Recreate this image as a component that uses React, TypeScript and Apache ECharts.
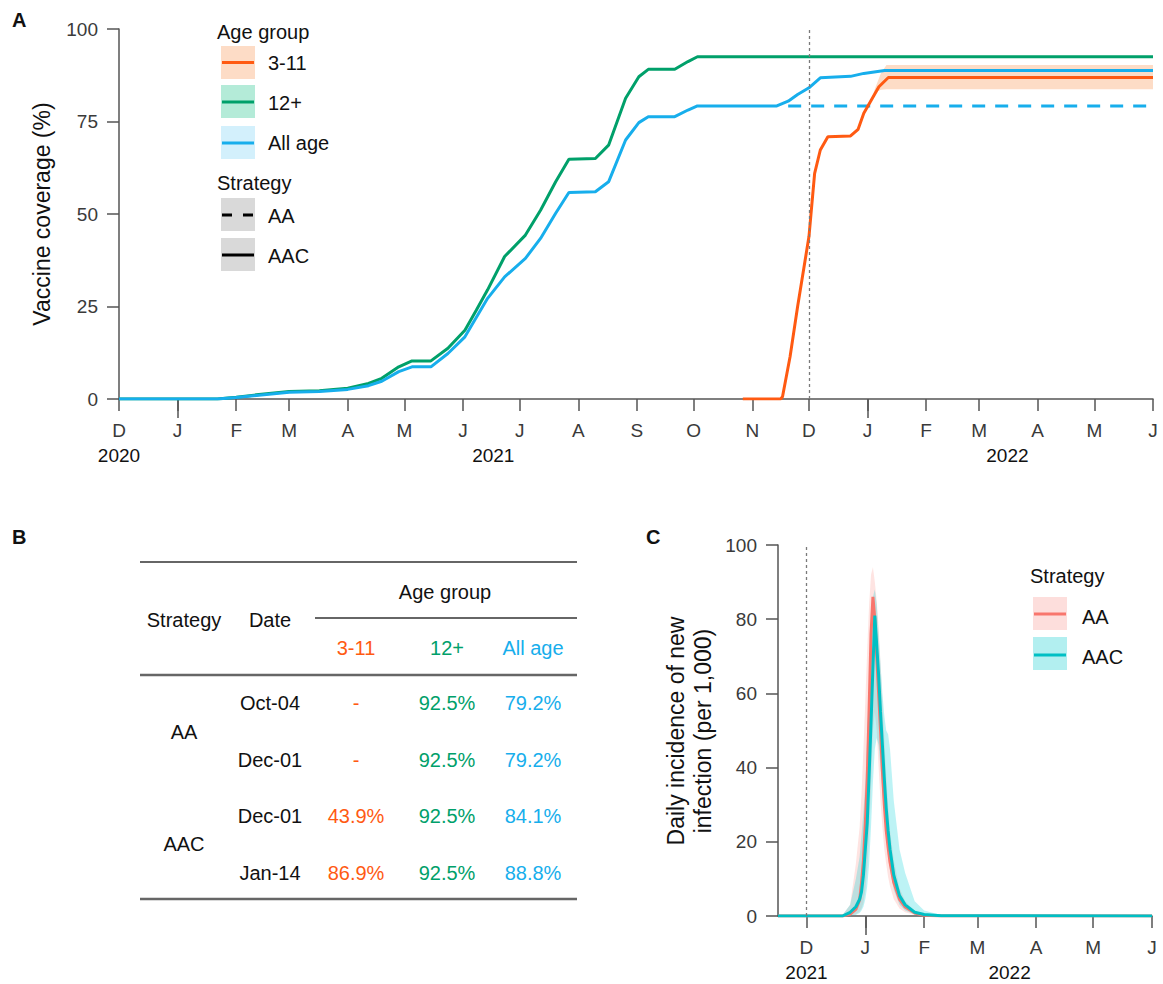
import React, { useEffect, useRef } from 'react';
import * as echarts from 'echarts';

const FONT = '"Liberation Sans", Arial, Helvetica, sans-serif';
const ORANGE = '#FF5A12';
const GREEN = '#00A06A';
const BLUE = '#17AEEC';
const RED = '#F8766D';
const TEAL = '#00BFC4';
const AXIS = '#555555';
const TICKTXT = '#3a3a3a';

// ---------- Panel A data ----------
const monthTicksA = ['2020-12-01','2021-01-01','2021-02-01','2021-03-01','2021-04-01','2021-05-01','2021-06-01','2021-07-01','2021-08-01','2021-09-01','2021-10-01','2021-11-01','2021-12-01','2022-01-01','2022-02-01','2022-03-01','2022-04-01','2022-05-01','2022-06-01'];
const januaryTicksA = ['2021-01-01','2022-01-01'];
const yearLabelPosA = ['2020-12-01','2021-06-17','2022-03-16'];
const yTicksA = [0, 25, 50, 75, 100];

const cov12Plus: [string, number][] = [
  ['2020-12-01',0],['2021-01-22',0],['2021-02-01',0.5],['2021-02-13',1.2],['2021-03-01',2.0],['2021-03-17',2.2],['2021-04-01',2.9],['2021-04-12',4.2],['2021-04-19',5.6],['2021-04-28',8.7],['2021-05-05',10.3],['2021-05-15',10.3],['2021-05-24',13.7],['2021-06-02',18.6],['2021-06-08',24],['2021-06-14',29.5],['2021-06-23',38.5],['2021-07-04',44.3],['2021-07-12',51],['2021-07-20',58.7],['2021-07-27',64.8],['2021-08-10',65],['2021-08-17',68.6],['2021-08-26',81.3],['2021-09-02',87.1],['2021-09-07',89.1],['2021-09-21',89.1],['2021-09-28',91.2],['2021-10-03',92.5],['2022-06-01',92.5]
];
const covAllAge: [string, number][] = [
  ['2020-12-01',0],['2021-01-22',0],['2021-02-01',0.4],['2021-02-13',1.0],['2021-03-01',1.8],['2021-03-17',2.0],['2021-04-01',2.6],['2021-04-12',3.6],['2021-04-19',4.8],['2021-04-28',7.4],['2021-05-05',8.7],['2021-05-15',8.7],['2021-05-24',12.3],['2021-06-02',16.8],['2021-06-14',27.2],['2021-06-23',33],['2021-07-04',38],['2021-07-12',43.4],['2021-07-20',50.2],['2021-07-27',55.8],['2021-08-10',56],['2021-08-17',58.7],['2021-08-26',70],['2021-09-02',74.7],['2021-09-07',76.3],['2021-09-21',76.3],['2021-09-28',78.1],['2021-10-03',79.2],['2021-11-14',79.2],['2021-11-20',80.5],['2021-11-25',82.3],['2021-12-01',84.1],['2021-12-07',86.8],['2021-12-23',87.2],['2021-12-30',88.0],['2022-01-10',88.8],['2022-06-01',88.8]
];
const covAllAgeAA: [string, number][] = [['2021-11-20',79.2],['2022-06-01',79.2]];
const cov3to11: [string, number][] = [
  ['2021-10-27',0],['2021-11-16',0],['2021-11-17',0.6],['2021-11-21',11.4],['2021-11-25',25],['2021-12-01',43.9],['2021-12-04',61],['2021-12-07',67.3],['2021-12-11',70.9],['2021-12-23',71.1],['2021-12-27',72.9],['2021-12-30',77.2],['2022-01-03',80.8],['2022-01-07',84.4],['2022-01-12',86.9],['2022-06-01',86.9]
];
const band3to11Dates = ['2022-01-03','2022-01-05','2022-01-08','2022-01-11','2022-06-01'];
const band3to11Lower = [81, 82.8, 83.6, 83.7, 83.7];
const band3to11Upper = [81, 84, 88, 90.3, 90.3];

// ---------- Panel B data ----------
const tableAgeGroups = ['3-11', '12+', 'All age'];
const tableStrategies = ['AA', 'AAC'];
const tableDates = ['Oct-04', 'Dec-01', 'Dec-01', 'Jan-14'];
const table3to11 = ['-', '-', '43.9%', '86.9%'];
const table12Plus = ['92.5%', '92.5%', '92.5%', '92.5%'];
const tableAllAge = ['79.2%', '79.2%', '84.1%', '88.8%'];

// ---------- Panel C data ----------
const monthTicksC = ['2021-12-01','2022-01-01','2022-02-01','2022-03-01','2022-04-01','2022-05-01','2022-06-01'];
const januaryTicksC = ['2022-01-01'];
const yearLabelPosC = ['2021-12-01','2022-03-18'];
const yTicksC = [0, 20, 40, 60, 80, 100];
const incDates = ['2021-11-16','2021-12-20','2021-12-24','2021-12-27','2021-12-29','2021-12-30','2021-12-31','2022-01-01','2022-01-02','2022-01-03','2022-01-04','2022-01-05','2022-01-06','2022-01-07','2022-01-08','2022-01-09','2022-01-10','2022-01-11','2022-01-12','2022-01-13','2022-01-14','2022-01-16','2022-01-19','2022-01-22','2022-01-27','2022-02-01','2022-02-10','2022-06-01'];
const incAA =       [0, 0, 0.5, 1.8, 4.3, 9, 15, 25, 37, 56, 76, 86, 80, 70, 60, 50, 39, 30, 23, 18.5, 14.5, 9, 4.5, 2.4, 0.8, 0.2, 0, 0];
const incAAC =      [0, 0, 1.0, 2.5, 4.5, 6.5, 11, 18, 25, 38, 52, 67, 81, 73, 65, 55, 46, 37, 29, 23, 18, 11, 5.5, 3, 1, 0.4, 0.1, 0];
const incAALower =  [0, 0, 0, 0.5, 1.2, 2, 3.5, 7, 13, 22, 35, 50, 55, 50, 40, 31, 24, 18, 14, 10.5, 8, 4.5, 2, 1, 0.3, 0, 0, 0];
const incAAUpper =  [0, 0.3, 3, 14, 24, 33, 45, 58, 72, 84, 92, 94, 90, 85, 78, 68, 58, 48, 38, 30, 23, 15, 7.5, 4, 1.3, 0.4, 0, 0];
const incAACLower = [0, 0, 0, 0.3, 0.8, 1.5, 2.5, 4.5, 8, 14, 24, 36, 45, 48, 46, 40, 33, 27, 21, 16, 12.5, 7, 3, 1.5, 0.4, 0.1, 0, 0];
const incAACUpper = [0, 0.3, 3, 10, 16, 22, 28, 36, 48, 62, 76, 86, 88, 84, 76, 68, 60, 54, 50, 49, 45, 31, 18, 11.6, 4, 1.5, 0.3, 0];

const MONTH_LETTERS = ['J','F','M','A','M','J','J','A','S','O','N','D'];
const ts = (s: string) => { const [y, m, d] = s.split('-').map(Number); return Date.UTC(y, m - 1, d); };
const pairs = (arr: [string, number][]) => arr.map(([d, v]) => [ts(d), v]);

function buildOption() {
  const axisLine = { show: true, onZero: false, lineStyle: { color: AXIS, width: 1.5 } };
  const tickStyle = { color: AXIS, width: 1.5 };
  const monthFmt = (v: number) => MONTH_LETTERS[new Date(v).getUTCMonth()];
  const yearFmt = (v: number) => String(new Date(v).getUTCFullYear());

  const makeXAxes = (grid: number, min: string, max: string, months: string[], jans: string[], years: string[]) => [
    {
      type: 'value', gridIndex: grid, position: 'bottom', min: ts(min), max: ts(max),
      axisLine, splitLine: { show: false },
      axisTick: { show: true, length: 12, customValues: months.map(ts), lineStyle: tickStyle },
      axisLabel: { show: true, customValues: months.map(ts), formatter: monthFmt, margin: 22, fontSize: 19, color: TICKTXT, fontFamily: FONT },
    },
    {
      type: 'value', gridIndex: grid, position: 'bottom', min: ts(min), max: ts(max),
      axisLine: { show: false, onZero: false }, splitLine: { show: false },
      axisTick: { show: true, length: 19, customValues: jans.map(ts), lineStyle: tickStyle },
      axisLabel: { show: false },
    },
    {
      type: 'value', gridIndex: grid, position: 'bottom', min: ts(min), max: ts(max),
      axisLine: { show: false, onZero: false }, splitLine: { show: false },
      axisTick: { show: false },
      axisLabel: { show: true, customValues: years.map(ts), formatter: yearFmt, margin: 47, fontSize: 19, color: '#111', fontFamily: FONT },
    },
  ];

  const makeYAxis = (grid: number, ticks: number[]) => ({
    type: 'value', gridIndex: grid, min: ticks[0], max: ticks[ticks.length - 1], interval: ticks[1] - ticks[0],
    axisLine: { show: true, lineStyle: { color: AXIS, width: 1.5 } },
    axisTick: { show: true, length: 12, lineStyle: tickStyle },
    axisLabel: { fontSize: 19, color: TICKTXT, margin: 21, fontFamily: FONT },
    splitLine: { show: false },
  });

  const line = (name: string, data: any[], color: string, xi: number, yi: number, dash?: number[]) => ({
    name, type: 'line', data, xAxisIndex: xi, yAxisIndex: yi, symbol: 'none', showSymbol: false,
    lineStyle: { color, width: 3, type: dash || 'solid' }, itemStyle: { color },
  });

  // confidence band drawn as one polygon through the axes' own coordinate mapping
  const band = (name: string, dates: string[], lower: number[], upper: number[], color: string, xi: number, yi: number) => ({
    name, type: 'custom', xAxisIndex: xi, yAxisIndex: yi, silent: true,
    data: [[ts(dates[0]), lower[0]]],
    renderItem: (_params: any, api: any) => {
      const top = dates.map((d, i) => api.coord([ts(d), upper[i]]));
      const bottom = dates.map((d, i) => api.coord([ts(d), lower[i]])).reverse();
      return { type: 'polygon', shape: { points: top.concat(bottom) }, style: { fill: color } };
    },
  });

  const vline = (date: string) => ({
    silent: true, symbol: ['none', 'none'], label: { show: false },
    lineStyle: { color: '#7a7a7a', type: [3, 3], width: 1.3 },
    data: [{ xAxis: ts(date) }],
  });

  const txt = (text: string, x: number, y: number, opts: any = {}) => ({
    type: 'text', x, y, rotation: opts.rotation || 0, z: 100,
    style: {
      text, fill: opts.color || '#111', fontSize: opts.size || 20, fontFamily: FONT, fontWeight: opts.weight || 'normal',
      align: opts.align || 'left', textAlign: opts.align || 'left', verticalAlign: 'middle', textVerticalAlign: 'middle',
      lineHeight: opts.lineHeight,
    },
  });
  const rect = (x: number, y: number, w: number, h: number, fill: string) => ({ type: 'rect', z: 90, shape: { x, y, width: w, height: h }, style: { fill } });
  const seg = (x1: number, y1: number, x2: number, y2: number, stroke: string, lw: number, dash?: number[]) => ({
    type: 'line', z: 95, shape: { x1, y1, x2, y2 }, style: { stroke, lineWidth: lw, lineDash: dash || null },
  });

  // Table layout
  const colStrategy = 184, colDate = 270, col311 = 356, col12 = 447, colAll = 533;
  const rowY = [703, 760, 816, 873];
  const stratY = [732, 844];
  const tableGraphics: any[] = [
    seg(140, 562, 577, 562, '#333', 1.6),
    txt('Age group', 445, 592, { align: 'center' }),
    seg(315, 618, 577, 618, '#333', 1.6),
    txt('Strategy', colStrategy, 620, { align: 'center' }),
    txt('Date', colDate, 620, { align: 'center' }),
    txt(tableAgeGroups[0], col311, 648, { align: 'center', color: ORANGE }),
    txt(tableAgeGroups[1], col12, 648, { align: 'center', color: GREEN }),
    txt(tableAgeGroups[2], colAll, 648, { align: 'center', color: BLUE }),
    seg(140, 675, 577, 675, '#666', 2.4),
    seg(140, 899, 577, 899, '#666', 2.4),
  ];
  tableStrategies.forEach((s, i) => tableGraphics.push(txt(s, colStrategy, stratY[i], { align: 'center' })));
  tableDates.forEach((d, i) => {
    tableGraphics.push(txt(d, colDate, rowY[i], { align: 'center' }));
    tableGraphics.push(txt(table3to11[i], col311, rowY[i], { align: 'center', color: ORANGE }));
    tableGraphics.push(txt(table12Plus[i], col12, rowY[i], { align: 'center', color: GREEN }));
    tableGraphics.push(txt(tableAllAge[i], colAll, rowY[i], { align: 'center', color: BLUE }));
  });

  const legendA: any[] = [
    txt('Age group', 217, 32),
    rect(221, 46, 34, 33, '#FDDCC6'), seg(222, 62.5, 254, 62.5, ORANGE, 3), txt('3-11', 268, 63),
    rect(221, 85, 34, 33, '#B4EBD8'), seg(222, 102, 254, 102, GREEN, 3), txt('12+', 268, 103),
    rect(221, 126, 34, 33, '#D3F0FC'), seg(222, 143, 254, 143, BLUE, 3), txt('All age', 268, 143),
    txt('Strategy', 217, 183),
    rect(221, 198, 34, 33, '#D9D9D9'), seg(222, 215, 254, 215, '#000', 3, [10, 11]), txt('AA', 268, 216),
    rect(221, 238, 34, 33, '#D9D9D9'), seg(222, 255, 254, 255, '#000', 3), txt('AAC', 268, 256),
  ];
  const legendC: any[] = [
    txt('Strategy', 1030, 576),
    rect(1033, 597, 34, 33, '#FDDEDC'), seg(1034, 614, 1066, 614, RED, 3), txt('AA', 1082, 617),
    rect(1033, 637, 34, 33, '#B2EFF0'), seg(1034, 655, 1066, 655, TEAL, 3), txt('AAC', 1082, 657),
  ];

  return {
    animation: false,
    backgroundColor: '#ffffff',
    textStyle: { fontFamily: FONT },
    grid: [
      { left: 119, right: 10, top: 29, bottom: 585 },
      { left: 778, right: 11, top: 545, bottom: 68 },
    ],
    xAxis: [
      ...makeXAxes(0, '2020-12-01', '2022-06-01', monthTicksA, januaryTicksA, yearLabelPosA),
      ...makeXAxes(1, '2021-11-16', '2022-06-01', monthTicksC, januaryTicksC, yearLabelPosC),
    ],
    yAxis: [makeYAxis(0, yTicksA), makeYAxis(1, yTicksC)],
    series: [
      band('3-11 range', band3to11Dates, band3to11Lower, band3to11Upper, '#FDDCC6', 0, 0),
      { ...line('12+ AAC', pairs(cov12Plus), GREEN, 0, 0), markLine: vline('2021-12-01') },
      line('All age AAC', pairs(covAllAge), BLUE, 0, 0),
      line('All age AA', pairs(covAllAgeAA), BLUE, 0, 0, [13, 10]),
      line('3-11 AAC', pairs(cov3to11), ORANGE, 0, 0),
      band('AA range', incDates, incAALower, incAAUpper, 'rgba(248,118,109,0.2)', 3, 1),
      band('AAC range', incDates, incAACLower, incAACUpper, 'rgba(0,210,215,0.26)', 3, 1),
      { ...line('AA', incDates.map((d, i) => [ts(d), incAA[i]]), RED, 3, 1), markLine: vline('2021-12-01') },
      line('AAC', incDates.map((d, i) => [ts(d), incAAC[i]]), TEAL, 3, 1),
    ],
    graphic: [
      txt('A', 12, 20, { weight: 'bold', size: 20 }),
      txt('B', 12, 537, { weight: 'bold', size: 20 }),
      txt('C', 646, 537, { weight: 'bold', size: 20 }),
      txt('Vaccine coverage (%)', 42, 214, { align: 'center', size: 23, rotation: Math.PI / 2 }),
      txt('Daily incidence of new\ninfection (per 1,000)', 689, 731, { align: 'center', size: 23, rotation: Math.PI / 2, lineHeight: 27 }),
      ...legendA,
      ...legendC,
      ...tableGraphics,
    ],
  };
}

export default function App() {
  const ref = useRef<HTMLDivElement>(null);
  useEffect(() => {
    document.body.style.margin = '0';
    if (!ref.current) return;
    const chart = echarts.init(ref.current, undefined, { renderer: 'svg' });
    chart.setOption(buildOption() as any);
    return () => chart.dispose();
  }, []);
  return <div ref={ref} style={{ width: 1163, height: 984 }} />;
}
